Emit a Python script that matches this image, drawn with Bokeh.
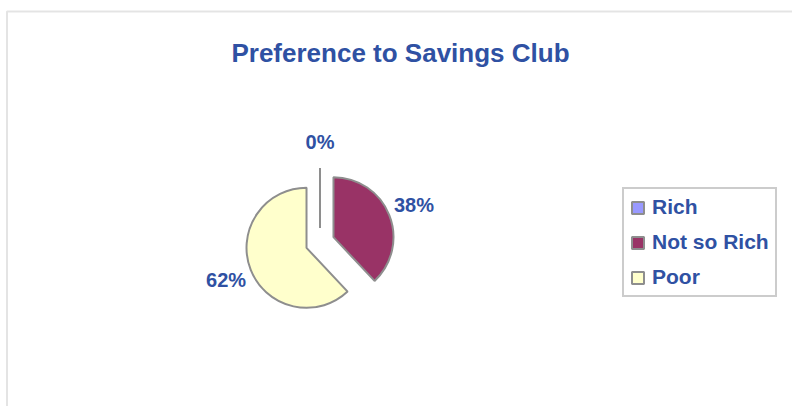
import numpy as np
from bokeh.plotting import figure
from bokeh.models import ColumnDataSource, Range1d, Legend, LegendItem, BoxAnnotation
from bokeh.core.properties import value
from bokeh.embed import file_html
from bokeh.resources import INLINE

title_text = "Preference to Savings Club"
categories = ["Rich", "Not so Rich", "Poor"]
shares = [0, 38, 62]
label_texts = ["0%", "38%", "62%"]
colors = ["#9999FF", "#993366", "#FFFFCC"]

BLUE = "#2F51A3"
GRAY = "#8E8E8E"
FONT = "Liberation Sans"

W, H = 792, 406
p = figure(width=W, height=H, x_range=Range1d(0, W), y_range=Range1d(0, H),
           output_backend="svg", toolbar_location=None, min_border=0)
p.axis.visible = False
p.grid.visible = False
p.outline_line_color = None
p.background_fill_color = "white"
p.border_fill_color = "white"

# outer chart border (only top and left visible in the reference)
p.add_layout(BoxAnnotation(left=6.5, right=W + 20, top=395, bottom=-20,
                           fill_alpha=0, line_color="#A6A6A6", line_width=2))

cx, cy = 319.5, 164
R = 60
explode = 14.5
label_r = 101

vals = np.array(shares, dtype=float)
tot = vals.sum()
cum = np.concatenate([[0], np.cumsum(vals)])
sf = cum[:-1] / tot
ef = cum[1:] / tot
mid = np.pi / 2 - 2 * np.pi * (sf + ef) / 2
start_ang = np.pi / 2 - 2 * np.pi * ef
end_ang = np.pi / 2 - 2 * np.pi * sf
vx = cx + explode * np.cos(mid)
vy = cy + explode * np.sin(mid)
lx = cx + label_r * np.cos(mid)
ly = cy + label_r * np.sin(mid)

items = []
for i, cat in enumerate(categories):
    # a zero share has no area: its wedge gets no radius, its edge is drawn as a line below
    rad = R if vals[i] > 0 else 0
    s = ColumnDataSource(dict(x=vx[[i]], y=vy[[i]], sa=start_ang[[i]], ea=end_ang[[i]]))
    r = p.wedge(x="x", y="y", radius=rad, start_angle="sa", end_angle="ea", source=s,
                fill_color=colors[i], line_color=GRAY, line_width=2)
    items.append(LegendItem(label=cat, renderers=[r]))

zero = vals == 0
zsrc = ColumnDataSource(dict(x0=vx[zero], y0=vy[zero],
                             x1=(vx + R * np.cos(mid))[zero], y1=(vy + R * np.sin(mid))[zero]))
p.segment(x0="x0", y0="y0", x1="x1", y1="y1", source=zsrc, line_color=GRAY, line_width=2)

lsrc = ColumnDataSource(dict(lx=lx, ly=ly, lab=label_texts))
p.text(x="lx", y="ly", text="lab", source=lsrc, text_align="center", text_baseline="middle",
       text_font=value(FONT), text_font_style="bold", text_font_size="20px", text_color=BLUE)

p.text(x=[400], y=[354], text=[title_text], text_align="center", text_baseline="middle",
       text_font=value(FONT), text_font_style="bold", text_font_size="26px", text_color=BLUE)

legend = Legend(items=items, location=(622, 109), margin=0, padding=6, spacing=11,
                glyph_width=15, glyph_height=15, label_standoff=7,
                label_text_font=FONT, label_text_font_style="bold",
                label_text_font_size="21px", label_text_color=BLUE,
                border_line_color="#9A9A9A", border_line_width=2,
                background_fill_color="white", background_fill_alpha=1)
p.add_layout(legend)

open("out.html", "w").write(file_html(p, INLINE))
